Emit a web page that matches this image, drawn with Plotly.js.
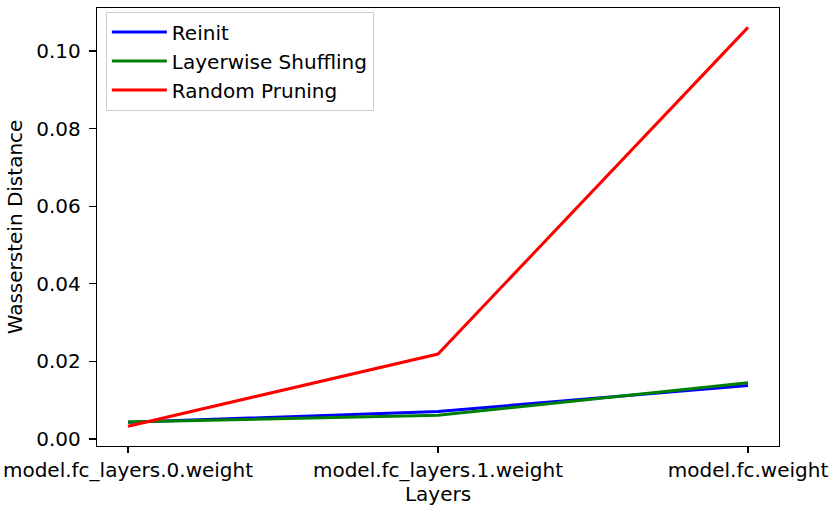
<!DOCTYPE html>
<html>
<head>
<meta charset="utf-8">
<script src="https://cdn.plot.ly/plotly-3.0.1.min.js"></script>
<style>html,body{margin:0;padding:0;background:#fff;}#chart{width:830px;height:510px;}</style>
</head>
<body>
<div id="chart"></div>
<script>
const layers = ["model.fc_layers.0.weight", "model.fc_layers.1.weight", "model.fc.weight"];
const reinit = [0.0043, 0.0071, 0.0138];
const shuffling = [0.0044, 0.0061, 0.0145];
const pruning = [0.0033, 0.0219, 0.1061];

const font = {family: "DejaVu Sans, sans-serif", size: 20, color: "#000"};
const idx = layers.map((_, i) => i);

const traces = [
  {x: idx, y: reinit, name: "Reinit", mode: "lines", line: {color: "#0000ff", width: 3}},
  {x: idx, y: shuffling, name: "Layerwise Shuffling", mode: "lines", line: {color: "#008000", width: 3}},
  {x: idx, y: pruning, name: "Random Pruning", mode: "lines", line: {color: "#ff0000", width: 3}}
];

const layout = {
  width: 830, height: 510,
  margin: {l: 97, r: 51, t: 8, b: 64},
  paper_bgcolor: "#fff", plot_bgcolor: "#fff",
  font: font,
  showlegend: true,
  legend: {x: 0.013, y: 0.992, xanchor: "left", yanchor: "top",
    bgcolor: "rgba(255,255,255,0.8)", bordercolor: "#cccccc", borderwidth: 1,
    font: font, tracegroupgap: 0, itemwidth: 55},
  xaxis: {
    range: [-0.1, 2.1],
    tickvals: idx, ticktext: layers,
    showgrid: false, zeroline: false,
    showline: true, linecolor: "#000", linewidth: 1.3, mirror: true,
    ticks: "outside", ticklen: 6, tickcolor: "#000", tickwidth: 1.3,
    tickfont: font, ticklabelstandoff: 0,
    title: {text: "Layers", font: font, standoff: 4}
  },
  yaxis: {
    range: [-0.0018, 0.1111],
    tickvals: [0, 0.02, 0.04, 0.06, 0.08, 0.10],
    ticktext: ["0.00", "0.02", "0.04", "0.06", "0.08", "0.10"],
    showgrid: false, zeroline: false,
    showline: true, linecolor: "#000", linewidth: 1.3, mirror: true,
    ticks: "outside", ticklen: 7, tickcolor: "#000", tickwidth: 1.3,
    tickfont: font, ticklabelstandoff: 4,
    title: {text: "Wasserstein Distance", font: font, standoff: 8}
  }
};

Plotly.newPlot("chart", traces, layout, {displayModeBar: false, staticPlot: true});
</script>
</body>
</html>
